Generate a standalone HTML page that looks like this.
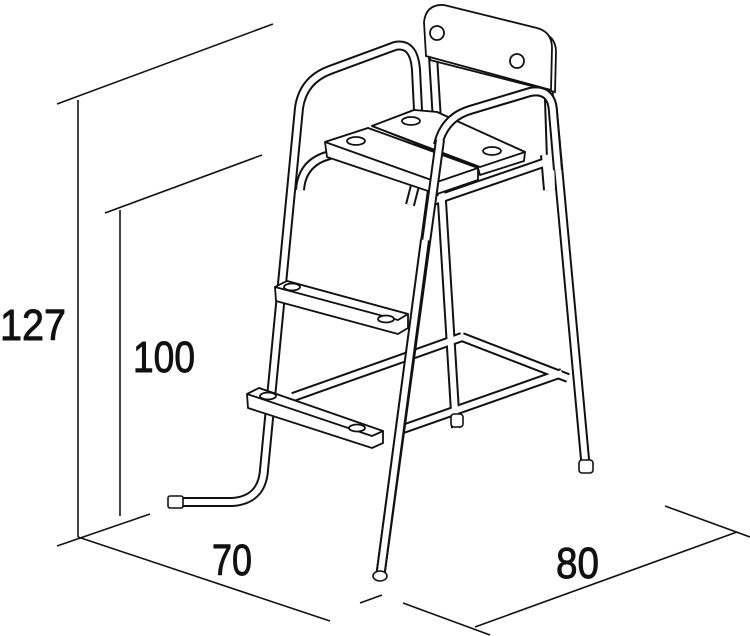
<!DOCTYPE html>
<html><head><meta charset="utf-8"><style>
html,body{margin:0;padding:0;background:#fff;}
svg{display:block}
text{font-family:"Liberation Sans Narrow","Liberation Sans",sans-serif;font-size:44px;fill:#111;stroke:#111;stroke-width:0.9;}
</style></head><body>
<svg width="750" height="636" viewBox="0 0 750 636" xmlns="http://www.w3.org/2000/svg">
<g stroke="#111" stroke-width="1.6" fill="none">
<line x1="57" y1="104" x2="273" y2="24"/>
<line x1="78" y1="100" x2="78" y2="537"/>
<line x1="105" y1="213" x2="262" y2="155"/>
<line x1="120" y1="210" x2="120" y2="516"/>
<line x1="57" y1="546" x2="150" y2="514"/>
<line x1="78" y1="537" x2="330" y2="621"/>
<line x1="360" y1="603" x2="382" y2="595"/>
<line x1="403" y1="603" x2="490" y2="635"/>
<line x1="475" y1="627" x2="737" y2="532"/>
<line x1="665" y1="506" x2="750" y2="537"/>
</g>
<text x="0" y="340" textLength="66" lengthAdjust="spacingAndGlyphs">127</text>
<text x="133" y="372" textLength="62" lengthAdjust="spacingAndGlyphs">100</text>
<text x="212" y="575" textLength="40" lengthAdjust="spacingAndGlyphs">70</text>
<text x="556" y="578" textLength="43" lengthAdjust="spacingAndGlyphs">80</text>

<g fill="none" stroke-linecap="butt" stroke-linejoin="round">
<g stroke="#111" stroke-width="10">
<path d="M432 40 L456 428"/>
<path d="M548 70 L552 190"/>
<path d="M176 502 L232 502 Q262 500 264 470 L299 108 Q303 80 330 70 L395 46 Q414 42 416 70 L420 150"/>
<path d="M293 397 L462 337"/>
<path d="M400 430 L562 373"/>
<path d="M462 337 L568 378"/>
<path d="M300 190 Q302 162 330 155"/>
<path d="M545 155 L548 190"/>
<path d="M430 202 L552 160"/>
<path d="M410 205 L419 170"/>
<path d="M380 578 L438 145 Q444 118 470 110 L530 92 Q552 88 553 112 L586 470"/>
</g>
<g stroke="#fff" stroke-width="6">
<path d="M432 40 L456 428"/>
<path d="M548 70 L552 190"/>
<path d="M176 502 L232 502 Q262 500 264 470 L299 108 Q303 80 330 70 L395 46 Q414 42 416 70 L420 150"/>
<path d="M293 397 L462 337"/>
<path d="M400 430 L562 373"/>
<path d="M462 337 L568 378"/>
<path d="M300 190 Q302 162 330 155"/>
<path d="M545 155 L548 190"/>
<path d="M430 202 L552 160"/>
<path d="M410 205 L419 170"/>
<path d="M380 578 L438 145 Q444 118 470 110 L530 92 Q552 88 553 112 L586 470"/>
</g>
</g>
<g stroke="#111" stroke-width="1.6" fill="#fff">
<rect x="168" y="496" width="15" height="12" rx="2"/>
<rect x="579" y="460" width="14" height="13" rx="3"/>
<rect x="451" y="414" width="12" height="13" rx="3"/>
</g>
<!-- backrest panel -->
<g stroke="#111" stroke-width="1.8" fill="#fff">
<path d="M430 22 Q432 6 448 8 L540 32 Q556 36 556 52 L555 92 L430 60 Z"/>
<path d="M424 22 Q426 4 444 5 L537 28 Q552 32 552 48 L551 90 L426 56 Z"/>
<circle cx="437" cy="33" r="7"/>
<circle cx="517" cy="61" r="7"/>
</g>
<!-- seat -->
<g stroke="#111" stroke-width="1.8" fill="#fff" stroke-linejoin="round">
<path d="M372 126 L414 110 L437 112 L525 152 L524 161 L480 175 L478 168 Z"/>
<path d="M372 126 L414 110 L437 112 L525 152 L480 167 Z"/>
<path d="M325 142 L368 128 L478 168 L478 180 L437 194 L327 157 Z"/>
<path d="M325 142 L368 128 L478 168 L437 182 Z"/>
<ellipse cx="356" cy="141" rx="9" ry="4"/>
<ellipse cx="411" cy="121" rx="9" ry="4"/>
<ellipse cx="492" cy="151" rx="9" ry="4"/>
</g>
<g fill="none">
<path d="M438 145 Q444 118 470 110 L530 92 Q552 88 553 112 L558 170" stroke="#111" stroke-width="10"/>
<path d="M438 145 Q444 118 470 110 L530 92 Q552 88 553 112 L558 170" stroke="#fff" stroke-width="6"/>
<path d="M380 578 L440 140" stroke="#111" stroke-width="10"/>
<path d="M380 578 L440 140" stroke="#fff" stroke-width="6"/>
</g>
<!-- steps -->
<g stroke="#111" stroke-width="1.8" fill="#fff" stroke-linejoin="round">
<path d="M275 287 L287 281 L408 314 L408 328 L398 334 L276 301 Z"/>
<path d="M275 287 L287 281 L408 314 L398 320 Z"/>
<ellipse cx="292" cy="287" rx="8" ry="3.5"/>
<ellipse cx="386" cy="319" rx="8" ry="3.5"/>
<path d="M247 394 L259 388 L383 431 L383 443 L372 448 L248 408 Z"/>
<path d="M247 394 L259 388 L383 431 L372 436 Z"/>
<ellipse cx="268" cy="396" rx="8" ry="3.5"/>
<ellipse cx="357" cy="428" rx="8" ry="3.5"/>
</g>
<g fill="none">
<path d="M380 578 L425 240" stroke="#111" stroke-width="10"/>
<path d="M380 578 L425 240" stroke="#fff" stroke-width="6"/>
</g>
<ellipse cx="380" cy="576" rx="7" ry="5" stroke="#111" stroke-width="1.6" fill="#fff"/>
</svg>
</body></html>
